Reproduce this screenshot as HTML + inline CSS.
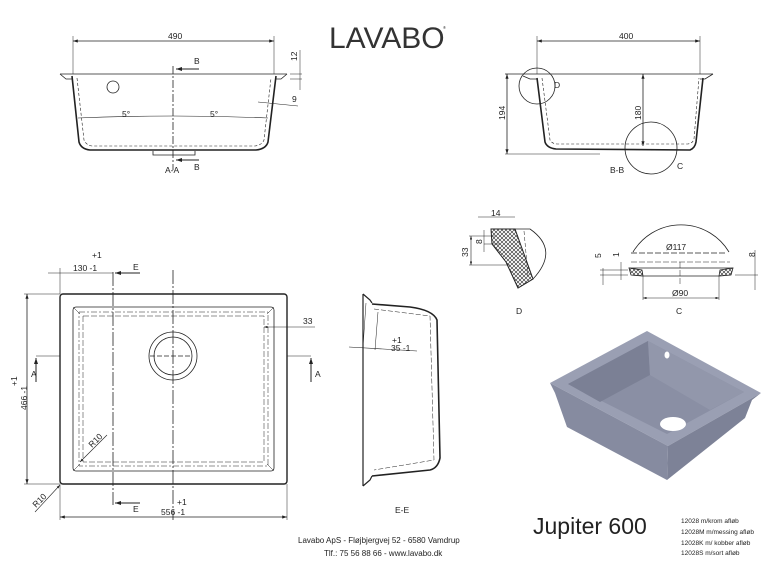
<!DOCTYPE html>
<html><head><meta charset="utf-8"><style>
html,body{margin:0;padding:0;background:#fff;}
svg{display:block;font-family:"Liberation Sans",sans-serif;}
</style></head><body>
<svg width="783" height="563" viewBox="0 0 783 563" xmlns="http://www.w3.org/2000/svg">
<defs>
<pattern id="hx" width="4" height="4" patternUnits="userSpaceOnUse"><path d="M0 0L4 4M4 0L0 4" stroke="#222" stroke-width="0.6"/></pattern>
<marker id="ar" markerWidth="6" markerHeight="4" refX="6" refY="2" orient="auto"><path d="M0 0L6 2L0 4z" fill="#222"/></marker>
<marker id="al" markerWidth="6" markerHeight="4" refX="0" refY="2" orient="auto"><path d="M6 0L0 2L6 4z" fill="#222"/></marker>
</defs>
<g stroke="#222" fill="none" stroke-width="0.8">
<!-- A-A section -->
<line x1="60" y1="74" x2="287" y2="74"/>
<path d="M60 74L66 79L72 79M287 74L281 79L275 79" />
<path d="M72 76L79 142Q81 149 90 150L256 150Q266 149 268 142L276 76" stroke-width="1.6"/>
<path d="M77 78L84 140Q86 145 92 146L255 146Q262 145 264 140L271 78" stroke-width="0.6" stroke-dasharray="3 2"/>
<path d="M78 118Q173 114 268 118" stroke-width="0.6"/>
<path d="M153 151L153 155L195 155L195 151" />
<circle cx="113" cy="87" r="6"/>
<line x1="173" y1="66" x2="173" y2="170" stroke-dasharray="8 2 2 2"/>
<line x1="73" y1="41" x2="274" y2="41" marker-start="url(#al)" marker-end="url(#ar)"/>
<line x1="73" y1="36" x2="73" y2="74" stroke-width="0.5"/><line x1="274" y1="36" x2="274" y2="74" stroke-width="0.5"/>
<line x1="199" y1="69" x2="176" y2="69" marker-end="url(#ar)" stroke-width="1"/>
<line x1="199" y1="160" x2="176" y2="160" marker-end="url(#ar)" stroke-width="1"/>
<line x1="300" y1="50" x2="300" y2="90" stroke-width="0.5"/><line x1="290" y1="74" x2="302" y2="74" stroke-width="0.5"/><line x1="290" y1="79" x2="302" y2="79" stroke-width="0.5"/>
<line x1="258" y1="102" x2="298" y2="106" stroke-width="0.5"/>
<!-- B-B section -->
<line x1="505" y1="74" x2="713" y2="74"/>
<path d="M523 76L530 79L537 79M713 74L705 79L700 79"/>
<path d="M537 78L545 142Q547 148 556 149L690 150Q695 148 696 142L703 78" stroke-width="1.6"/>
<path d="M542 78L550 140Q552 144 558 144L688 144Q693 143 694 139L699 78" stroke-width="0.6" stroke-dasharray="3 2"/>
<line x1="537" y1="41" x2="700" y2="41" marker-start="url(#al)" marker-end="url(#ar)"/>
<line x1="537" y1="36" x2="537" y2="74" stroke-width="0.5"/><line x1="700" y1="36" x2="700" y2="74" stroke-width="0.5"/>
<line x1="507" y1="74" x2="507" y2="154" marker-start="url(#al)" marker-end="url(#ar)"/>
<line x1="505" y1="154" x2="600" y2="154" stroke-width="0.5"/>
<line x1="643" y1="74" x2="643" y2="146" marker-start="url(#al)" marker-end="url(#ar)"/>
<circle cx="537" cy="86" r="18"/>
<circle cx="651" cy="148" r="26"/>
<!-- Detail D -->
<path d="M491 229L515 229L533 279L518 288L506 262L492 244Z" fill="url(#hx)" stroke-width="1"/>
<path d="M515 229L530 229Q560 250 533 279" />
<line x1="524" y1="231" x2="528" y2="276" stroke-width="0.5" stroke-dasharray="4 2"/>
<line x1="478" y1="217" x2="515" y2="217" stroke-width="0.5"/>
<line x1="471" y1="236" x2="471" y2="265" marker-start="url(#al)" marker-end="url(#ar)" stroke-width="0.6"/>
<line x1="469" y1="265" x2="510" y2="265" stroke-width="0.5"/><line x1="469" y1="236" x2="495" y2="236" stroke-width="0.5"/>
<line x1="484" y1="230" x2="484" y2="252" stroke-width="0.5"/><line x1="484" y1="244" x2="500" y2="244" stroke-width="0.5"/>
<!-- Detail C -->
<path d="M633 252A56 56 0 0 1 729 252"/>
<line x1="631" y1="253" x2="727" y2="253" stroke-dasharray="6 2"/>
<line x1="631" y1="262" x2="730" y2="262" stroke-dasharray="6 2" stroke-width="0.5"/>
<path d="M629 268L631 275L643 276L642 270Z" fill="url(#hx)"/>
<path d="M733 268L731 275L719 276L720 270Z" fill="url(#hx)"/>
<line x1="629" y1="268" x2="733" y2="268"/><line x1="643" y1="276" x2="719" y2="276"/>
<line x1="643" y1="276" x2="643" y2="300" stroke-width="0.5"/><line x1="719" y1="276" x2="719" y2="300" stroke-width="0.5"/>
<line x1="643" y1="298" x2="719" y2="298" marker-start="url(#al)" marker-end="url(#ar)" stroke-width="0.6"/>
<line x1="680" y1="262" x2="680" y2="285" stroke-dasharray="6 2" stroke-width="0.5"/>
<line x1="603" y1="268" x2="603" y2="285" stroke-width="0.5"/><line x1="621" y1="262" x2="621" y2="280" stroke-width="0.5"/>
<line x1="755" y1="250" x2="755" y2="290" stroke-width="0.5"/><line x1="600" y1="270" x2="628" y2="270" stroke-width="0.5"/><line x1="600" y1="275" x2="628" y2="275" stroke-width="0.5"/><line x1="735" y1="275" x2="758" y2="275" stroke-width="0.5"/>
<!-- Plan view -->
<rect x="60" y="294" width="227" height="190" rx="3" stroke-width="1.4"/>
<rect x="73" y="307" width="201" height="164" rx="3"/>
<rect x="79" y="312" width="189" height="154" stroke-width="0.5" stroke-dasharray="6 2 2 2"/>
<rect x="83" y="316" width="181" height="146" stroke-width="0.5" stroke-dasharray="6 2"/>
<path d="M73 307L80 314M274 307L267 314M73 471L80 464M274 471L267 464" stroke-width="0.5"/>
<circle cx="173" cy="356" r="24"/><circle cx="173" cy="356" r="19"/>
<line x1="150" y1="356" x2="190" y2="356" stroke-dasharray="5 2"/>
<line x1="173" y1="270" x2="173" y2="520" stroke-dasharray="14 2 2 2"/>
<line x1="113" y1="272" x2="113" y2="505" stroke-dasharray="14 2 2 2"/>
<line x1="48" y1="273" x2="113" y2="273" stroke-width="0.6"/>
<line x1="60" y1="268" x2="60" y2="294" stroke-width="0.5"/>
<line x1="140" y1="273" x2="115" y2="273" marker-end="url(#ar)" stroke-width="1"/>
<line x1="140" y1="503" x2="115" y2="503" marker-end="url(#ar)" stroke-width="1"/>
<line x1="60" y1="517" x2="287" y2="517" marker-start="url(#al)" marker-end="url(#ar)"/>
<line x1="60" y1="484" x2="60" y2="520" stroke-width="0.5"/><line x1="287" y1="484" x2="287" y2="520" stroke-width="0.5"/>
<line x1="27" y1="294" x2="27" y2="484" marker-start="url(#al)" marker-end="url(#ar)"/>
<line x1="24" y1="294" x2="60" y2="294" stroke-width="0.5"/><line x1="24" y1="484" x2="60" y2="484" stroke-width="0.5"/>
<line x1="36" y1="356" x2="60" y2="356" stroke-width="0.6"/><line x1="36" y1="382" x2="36" y2="358" marker-end="url(#ar)" stroke-width="1"/>
<line x1="287" y1="356" x2="311" y2="356" stroke-width="0.6"/><line x1="311" y1="382" x2="311" y2="358" marker-end="url(#ar)" stroke-width="1"/>
<line x1="315" y1="327" x2="264" y2="327" marker-end="url(#ar)" stroke-width="0.6"/>
<line x1="107" y1="435" x2="80" y2="462" marker-end="url(#ar)" stroke-width="0.6"/>
<line x1="35" y1="512" x2="60" y2="485" marker-end="url(#ar)" stroke-width="0.6"/>
<!-- E-E -->
<path d="M363 294L363 486M363 294L370 300L372 303M363 486L370 480L372 476" stroke-width="1.2"/>
<path d="M372 304L410 307Q433 310 437 320L440 458Q438 468 430 470L372 476" stroke-width="1.6"/>
<path d="M374 309L430 316L434 460L374 470" stroke-width="0.5" stroke-dasharray="5 2"/>
<line x1="349" y1="347" x2="417" y2="351" stroke-width="0.6"/>
<line x1="366" y1="303" x2="363" y2="347" stroke-width="0.5"/><line x1="378" y1="312" x2="375" y2="350" stroke-width="0.5"/>
</g>
<!-- logo -->
<text x="329" y="48" font-size="30" fill="#333" letter-spacing="0" style="font-weight:300">LAVABO</text>
<text x="443" y="29" font-size="4" fill="#222">®</text>
<!-- labels -->
<g fill="#222" font-size="8.5">
<text x="168" y="39">490</text>
<text x="194" y="64">B</text><text x="194" y="170">B</text>
<text x="165" y="173">A-A</text>
<text x="122" y="117">5°</text><text x="210" y="117">5°</text>
<text x="292" y="102">9</text>
<text x="297" y="61" transform="rotate(-90 297 61)">12</text>
<text x="619" y="39">400</text>
<text x="505" y="120" transform="rotate(-90 505 120)">194</text>
<text x="641" y="120" transform="rotate(-90 641 120)">180</text>
<text x="554" y="88">D</text><text x="677" y="169">C</text><text x="610" y="173">B-B</text>
<text x="491" y="216">14</text>
<text x="468" y="257" transform="rotate(-90 468 257)">33</text>
<text x="482" y="244" transform="rotate(-90 482 244)">8</text>
<text x="516" y="314">D</text>
<text x="666" y="250">Ø117</text>
<text x="672" y="296">Ø90</text>
<text x="676" y="314">C</text>
<text x="601" y="258" transform="rotate(-90 601 258)">5</text>
<text x="619" y="257" transform="rotate(-90 619 257)">1</text>
<text x="755" y="257" transform="rotate(-90 755 257)">8</text>
<text x="92" y="258">+1</text><text x="73" y="271">130 -1</text>
<text x="133" y="270">E</text><text x="133" y="512">E</text>
<text x="177" y="505">+1</text><text x="161" y="515">556 -1</text>
<text x="27" y="410" transform="rotate(-90 27 410)">466 -1</text>
<text x="17" y="386" transform="rotate(-90 17 386)">+1</text>
<text x="31" y="377">A</text><text x="315" y="377">A</text>
<text x="303" y="324">33</text>
<text x="392" y="343">+1</text><text x="391" y="351">35 -1</text>
<text x="92" y="448" transform="rotate(-45 92 448)">R10</text>
<text x="36" y="508" transform="rotate(-45 36 508)">R10</text>
<text x="395" y="513">E-E</text>
<text x="298" y="543" font-size="8">Lavabo ApS - Fløjbjergvej 52 - 6580 Vamdrup</text>
<text x="324" y="556" font-size="8">Tlf.: 75 56 88 66 - www.lavabo.dk</text>
<text x="533" y="534" font-size="23">Jupiter 600</text>
<g font-size="6.5"><text x="681" y="523">12028 m/krom afløb</text><text x="681" y="534">12028M m/messing afløb</text><text x="681" y="545">12028K m/ kobber afløb</text><text x="681" y="555">12028S m/sort afløb</text></g>
</g>
<!-- 3D sink -->
<g>
<path d="M550 383L647 331L761 393L668 446Z" fill="#9a9fb3"/>
<path d="M550 383L555 393L567 427L667 480L668 446Z" fill="#868ba0"/>
<path d="M668 446L667 480L745 418L752 400L761 393Z" fill="#7d8297"/>
<path d="M568 384L648 341L744 392L667 434Z" fill="#8a8fa4"/>
<path d="M568 384L648 341L650 375L600 402Z" fill="#7b8095"/>
<path d="M648 341L744 392L710 410L650 375Z" fill="#9297ab"/>
<ellipse cx="673" cy="424" rx="13" ry="7" fill="#fff"/>
<ellipse cx="667" cy="355" rx="2.5" ry="3.5" fill="#fff"/>
</g>
</svg>
</body></html>
